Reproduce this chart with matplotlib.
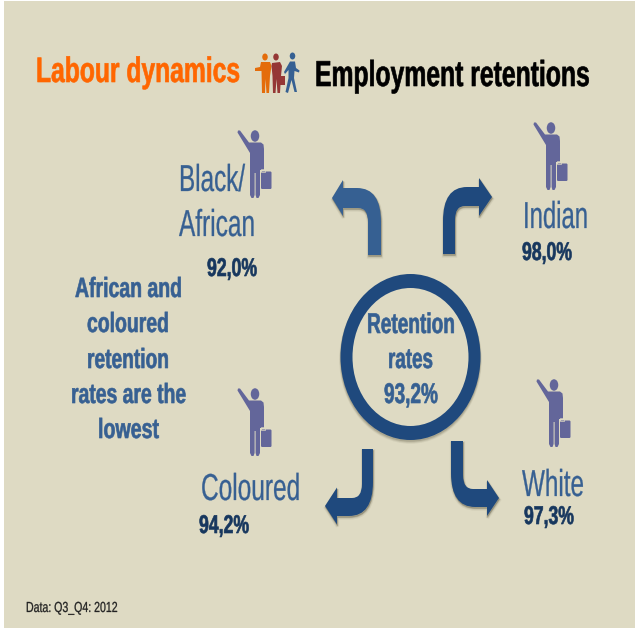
import matplotlib
matplotlib.use("Agg")
import matplotlib.pyplot as plt
from matplotlib.patches import Ellipse, PathPatch, Polygon, Rectangle, FancyBboxPatch
from matplotlib.path import Path
from matplotlib.patheffects import AbstractPathEffect
from matplotlib.transforms import Affine2D

W, H = 635, 629
BG = "#dedac3"
FONT = ["Liberation Sans", "DejaVu Sans"]

groups = ["Black/\nAfrican", "Indian", "Coloured", "White"]
rates = ["92,0%", "98,0%", "94,2%", "97,3%"]
overall_label = ["Retention", "rates"]
overall_rate = "93,2%"
note_lines = ["African and", "coloured", "retention", "rates are the", "lowest"]
title_left = "Labour dynamics"
title_right = "Employment retentions"
source = "Data: Q3_Q4: 2012"

BLUE = "#1f497d"
MID = "#366092"
TEXT = "#376092"
DARK = "#17375e"
PURPLE = "#63669a"

fig = plt.figure(figsize=(W / 100, H / 100), dpi=100, facecolor="white")
ax = fig.add_axes([0, 0, 1, 1])
ax.set_xlim(0, W)
ax.set_ylim(H, 0)
ax.axis("off")
ax.add_patch(Rectangle((4, 1), W - 4, 627, fc=BG, ec="none", zorder=0))
renderer = fig.canvas.get_renderer()


class TallGlyphs(AbstractPathEffect):
    """Stretch drawn glyphs vertically about the baseline and thicken them a little."""

    def __init__(self, sy, y0, stroke):
        super().__init__()
        self.sy, self.y0, self.stroke = sy, y0, stroke

    def draw_path(self, renderer, gc, tpath, affine, rgbFace=None):
        stretch = Affine2D().translate(0, -self.y0).scale(1, self.sy).translate(0, self.y0)
        gc0 = renderer.new_gc()
        gc0.copy_properties(gc)
        gc0.set_linewidth(self.stroke)
        gc0.set_foreground(rgbFace)
        renderer.draw_path(gc0, tpath, affine + stretch, rgbFace)
        gc0.restore()


def label(x, baseline, s, width, size, color, weight="normal"):
    """Text fitted to a pixel width at a given apparent height in points."""
    t = ax.text(x, baseline, s, fontsize=size, color=color, fontweight=weight,
                ha="left", va="baseline", family=FONT, zorder=5)
    ratio = width / t.get_window_extent(renderer).width
    t.set_fontsize(size * ratio)
    y0 = ax.transData.transform((x, baseline))[1]
    stroke = 0.45 if weight == "bold" else 0.2
    t.set_path_effects([TallGlyphs(1 / ratio, y0, stroke)])
    return t


def person(x, y, color=PURPLE):
    """Waving traveller with a suitcase; (x, y) is the head centre."""
    def P(dx, dy):
        return (x + dx, y + dy)
    ax.add_patch(Ellipse(P(0, 0), 8.5, 11.5, fc=color, ec="none", zorder=4))
    body = [P(-17.5, -3.5), P(-17, -5.5), P(-15, -5.5), P(-6, 6.5), P(6, 6.5), P(8.5, 8.5),
            P(9, 13), P(9, 34), P(5, 34), P(5, 59), P(3.5, 62), P(1.5, 62), P(0.6, 59),
            P(0.6, 37), P(-0.4, 37), P(-0.4, 59), P(-1.5, 62), P(-3.5, 62), P(-5, 59),
            P(-5, 17)]
    ax.add_patch(Polygon(body, closed=True, fc=color, ec="none", zorder=4))
    ax.add_patch(FancyBboxPatch(P(6, 35.5), 10.5, 17.5,
                                boxstyle="round,pad=0,rounding_size=1.2",
                                fc=color, ec="none", zorder=4))
    ax.add_patch(Rectangle(P(5.2, 35.5), 0.8, 18, fc=BG, ec="none", zorder=4.1))
    ax.add_patch(Rectangle(P(5.5, 33), 4.5, 2.5, fc="none", ec=BG, lw=0.5, zorder=4.2))


def bent_arrow(outer_x, inner_x, end_y, outer_y, inner_y, tip_x, tip_y, neck_x, half, color,
               rx=24, ry=34, irx=10, iry=14):
    """Stem leaving at end_y, turning through a rounded corner into an arrow head."""
    dx = 1 if tip_x > outer_x else -1
    dy = 1 if outer_y > end_y else -1
    verts = [(outer_x, end_y), (outer_x, outer_y - dy * ry),
             (outer_x, outer_y), (outer_x + dx * rx, outer_y),
             (neck_x, outer_y), (neck_x, tip_y + dy * half), (tip_x, tip_y),
             (neck_x, tip_y - dy * half), (neck_x, inner_y),
             (inner_x + dx * irx, inner_y), (inner_x, inner_y),
             (inner_x, inner_y - dy * iry), (inner_x, end_y), (outer_x, end_y)]
    codes = [Path.MOVETO, Path.LINETO, Path.CURVE3, Path.CURVE3, Path.LINETO,
             Path.LINETO, Path.LINETO, Path.LINETO, Path.LINETO, Path.LINETO,
             Path.CURVE3, Path.CURVE3, Path.LINETO, Path.CLOSEPOLY]
    # Soft drop shadow built from a few translucent offsets
    for off, lw, alpha in [(2.0, 2.4, 0.10), (1.6, 1.2, 0.18), (1.2, 0.2, 0.30)]:
        shifted = [(vx + 0.5, vy + off) for vx, vy in verts]
        ax.add_patch(PathPatch(Path(shifted, codes), fc="#6b6650", ec="#6b6650", lw=lw,
                               alpha=alpha, zorder=2))
    ax.add_patch(PathPatch(Path(verts, codes), fc=color, ec="none", zorder=3))


# Titles
label(36, 82, title_left, 204, 25.5, "#ff6600", "bold")
label(315, 86, title_right, 275, 26, "black", "bold")

# Small trio of people next to the title
ORANGE, RED, SMALL_BLUE = "#e46c0a", "#953735", "#366092"
ax.add_patch(Ellipse((265, 57), 5.5, 7, fc=ORANGE, ec="none", zorder=4))
ax.add_patch(Polygon([(255, 68), (260, 67), (261, 62), (270, 62), (271.5, 66), (270, 76),
                      (269, 93), (266.5, 93), (265.5, 79), (265, 93), (262, 93), (261.5, 71),
                      (255, 71)], fc=ORANGE, ec="none", zorder=4))
ax.add_patch(Ellipse((276, 57), 5.5, 7, fc=RED, ec="none", zorder=4))
ax.add_patch(Polygon([(272, 63), (280, 62), (282, 66), (281, 76), (280, 93), (277.5, 93),
                      (276.5, 79), (275.5, 93), (273, 93), (272.5, 76), (271.5, 66)],
                     fc=RED, ec="none", zorder=4))
ax.add_patch(Rectangle((278, 76), 7, 9, fc=RED, ec="none", zorder=4))
ax.add_patch(Ellipse((292.5, 56), 5.5, 7, fc=SMALL_BLUE, ec="none", zorder=4))
ax.add_patch(Polygon([(290, 61.5), (295, 61.5), (296, 68), (299.5, 70.5), (299, 72.5), (294.5, 71),
                      (294, 78), (297, 92), (294.5, 92), (291.5, 80), (288, 93), (285.5, 92),
                      (288.5, 78), (288.5, 70), (285, 74), (284, 72)],
                     fc=SMALL_BLUE, ec="none", zorder=4))

# Group labels, rates and their icons
black, african = groups[0].split("\n")
label(179, 191, black, 66, 27, TEXT)
label(179, 236, african, 76, 27, TEXT)
label(207, 276, rates[0], 50, 18.5, DARK, "bold")
label(523, 228, groups[1], 65, 27, TEXT)
label(522, 260, rates[1], 50, 18.5, DARK, "bold")
label(201, 500, groups[2], 99, 27, TEXT)
label(199, 533, rates[2], 50, 18.5, DARK, "bold")
label(522, 496, groups[3], 62, 27, TEXT)
label(524, 524, rates[3], 50, 18.5, DARK, "bold")

person(255, 136)
person(551, 128)
person(255, 394)
person(554, 385)

# Side note
note_x = [75, 87, 87, 71, 98]
note_w = [107, 82, 82, 115, 61]
note_base = [297, 332, 368, 403, 438]
for xx, ww, bb, line in zip(note_x, note_w, note_base, note_lines):
    label(xx, bb, line, ww, 20, TEXT, "bold")

# Central ring with a soft shadow underneath
for grow, off, alpha in [(2.5, 2.5, 0.10), (1.5, 2.0, 0.16), (0.5, 1.5, 0.25)]:
    ax.add_patch(Ellipse((410.5, 357 + off), 140 + grow, 166 + grow, fc="#6b6650", ec="none",
                         alpha=alpha, zorder=2))
ax.add_patch(Ellipse((410.5, 357), 140, 166, fc=BLUE, ec="none", zorder=3))
ax.add_patch(Ellipse((410.5, 357), 116, 138, fc=BG, ec="none", zorder=3.1))
label(367, 333, overall_label[0], 88, 20.5, MID, "bold")
label(388, 368, overall_label[1], 45, 20.5, MID, "bold")
label(384, 403, overall_rate, 54, 20.5, MID, "bold")

# Arrows leaving the ring
bent_arrow(381, 368, 255, 188, 208, 332, 198, 343, 18, MID)
bent_arrow(443, 455, 254, 187, 206, 492, 197, 479, 19, BLUE)
bent_arrow(373, 362, 449, 516, 498, 325, 506, 337, 18.5, BLUE)
bent_arrow(451, 463, 441, 507, 489, 499, 498, 487, 18, BLUE)

# Source line
label(26, 612, source, 92, 10.5, "#222222")

fig.savefig("out.png", dpi=100, facecolor="white")
